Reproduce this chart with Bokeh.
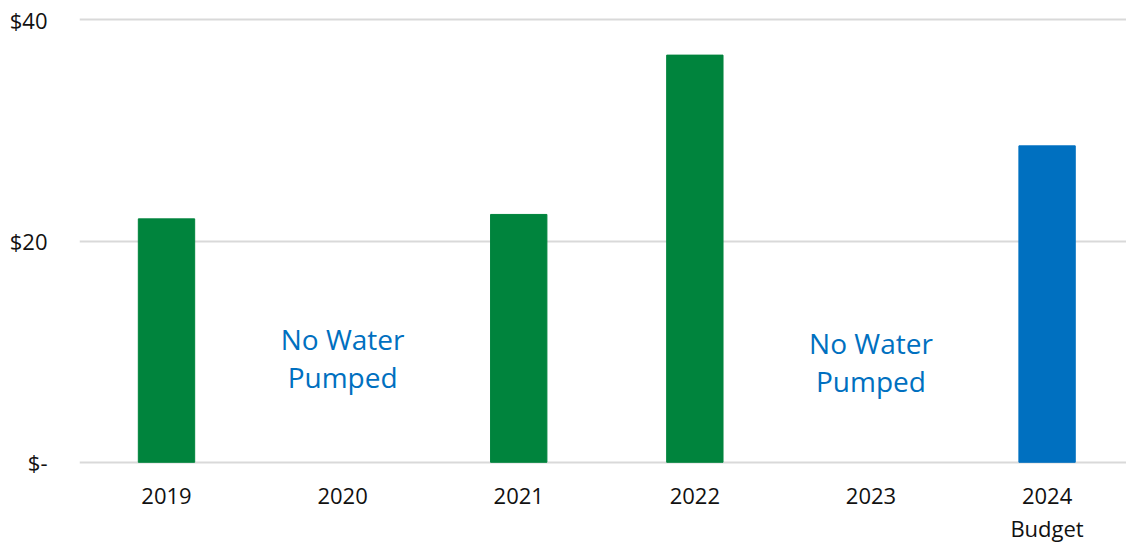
from bokeh.plotting import figure
from bokeh.models import ColumnDataSource, Range1d, FixedTicker
from bokeh.core.properties import value
from bokeh.embed import file_html
from bokeh.resources import INLINE

# Pumping cost by year ($), with the budgeted figure for 2024
years = ["2019", "2020", "2021", "2022", "2023", "2024\nBudget"]
costs = [22.0, None, 22.4, 36.8, None, 28.6]
kinds = ["actual", "none", "actual", "actual", "none", "budget"]
note_text = "No Water\nPumped"
y_ticks = [0, 20, 40]
y_tick_labels = ["$-", "$20", "$40"]

GREEN = "#00843D"
BLUE = "#0070C0"
FONT = "Open Sans"

bar_x, bar_top, bar_color = [], [], []
note_x = []
for i, (c, k) in enumerate(zip(costs, kinds)):
    if c is None:
        note_x.append(i)
        continue
    bar_x.append(i)
    bar_top.append(c)
    bar_color.append(BLUE if k == "budget" else GREEN)

bars = ColumnDataSource(dict(x=bar_x, top=bar_top, color=bar_color))

p = figure(width=1126, height=545, output_backend="svg", toolbar_location=None,
           x_range=Range1d(-0.494, 5.451), y_range=Range1d(-0.2, 40.2))
p.min_border_left = 79
p.min_border_right = 0
p.min_border_top = 17
p.min_border_bottom = 81
p.outline_line_color = None
p.background_fill_color = "white"
p.border_fill_color = "white"

p.vbar(x="x", top="top", bottom=0, width=0.32, color="color", source=bars)

# labels over the empty years
p.text(x=note_x, y=[9.44, 9.07][:len(note_x)], text=[note_text] * len(note_x),
       text_font=value(FONT), text_font_size="28px", text_color=BLUE,
       text_align="center", text_baseline="middle", text_line_height=1.0)

# axes
p.xaxis.ticker = FixedTicker(ticks=list(range(len(years))))
p.xaxis.major_label_overrides = {i: y for i, y in enumerate(years)}
p.xaxis.axis_line_color = None
p.xaxis.major_tick_line_color = None
p.xaxis.minor_tick_line_color = None
p.xaxis.major_tick_out = 0
p.xaxis.major_label_standoff = 15
p.xaxis.major_label_text_font = FONT
p.xaxis.major_label_text_font_size = "22px"
p.xaxis.major_label_text_color = "#111111"
p.xaxis.major_label_text_line_height = 1.1

p.yaxis.ticker = FixedTicker(ticks=y_ticks)
p.yaxis.major_label_overrides = {t: l for t, l in zip(y_ticks, y_tick_labels)}
p.yaxis.axis_line_color = None
p.yaxis.major_tick_line_color = None
p.yaxis.minor_tick_line_color = None
p.yaxis.major_tick_out = 0
p.yaxis.major_label_standoff = 32
p.yaxis.major_label_text_font = FONT
p.yaxis.major_label_text_font_size = "22px"
p.yaxis.major_label_text_color = "#111111"

p.xgrid.grid_line_color = None
p.ygrid.grid_line_color = "#D9D9D9"
p.ygrid.grid_line_width = 2
p.ygrid.level = "underlay"

open("out.html", "w").write(file_html(p, INLINE))
